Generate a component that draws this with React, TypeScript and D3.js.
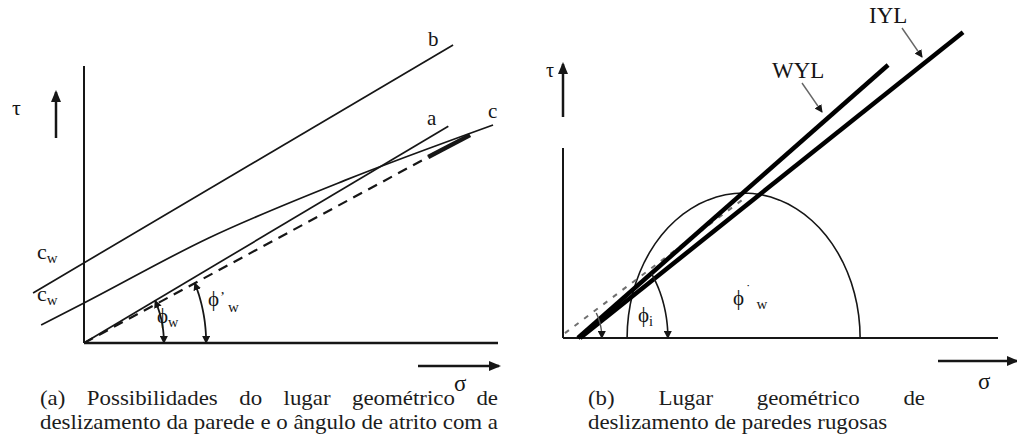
import React, { useEffect, useRef } from "react";
import * as d3 from "d3";

type Pt = [number, number];

// ---- Panel (a): possible wall yield loci (σ, τ in arbitrary stress units)
const locusB: Pt[] = [[-2.46, 2.08], [17.83, 12.37]];
const locusA: Pt[] = [[0, 0], [17.6, 9.0]];
const locusC: Pt[] = [[-2.07, 0.75], [0, 1.66], [6, 4.35], [12.6, 6.75], [19.76, 9.05]];
const effectiveLocus: Pt[] = [[0, 0], [16.63, 7.72]];
const effectiveTail: Pt[] = [[16.63, 7.72], [18.65, 8.63]];
const angleRadiiA = [3.86, 5.9]; // φw, φ'w

// ---- Panel (b): rough wall yield locus, internal yield locus and Mohr circle
const wyl: Pt[] = [[0.77, 0], [16.74, 11.3]];
const iyl: Pt[] = [[0.88, 0], [20.6, 12.66]];
const mohrCenter = 9.3;
const mohrRadius = 6;
const guideLocus: Pt[] = [[0.1, 0.2], [9.37, 5.8]];
const phiIRadius = 4.63;
const guideArcRadius = 2.0;

const captionA = ["(a) Possibilidades do lugar geométrico de", "deslizamento da parede e o ângulo de atrito com a"];
const captionB = ["(b) Lugar geométrico de", "deslizamento de paredes rugosas"];

const INK = "#161616";
const SERIF = "Liberation Serif";

export default function App() {
  const ref = useRef<SVGSVGElement | null>(null);

  useEffect(() => {
    const svg = d3.select(ref.current);
    svg.selectAll("*").remove();

    const defs = svg.append("defs");
    defs.append("marker")
      .attr("id", "headAxis").attr("viewBox", "0 0 12 10")
      .attr("refX", 10).attr("refY", 5)
      .attr("markerWidth", 12).attr("markerHeight", 10)
      .attr("markerUnits", "userSpaceOnUse").attr("orient", "auto")
      .append("path").attr("d", "M0,0 L12,5 L0,10 Z").attr("fill", INK);
    defs.append("marker")
      .attr("id", "headSmall").attr("viewBox", "0 0 8 8")
      .attr("refX", 7).attr("refY", 4)
      .attr("markerWidth", 8).attr("markerHeight", 8)
      .attr("markerUnits", "userSpaceOnUse").attr("orient", "auto-start-reverse")
      .append("path").attr("d", "M0,0 L8,4 L0,8 Z").attr("fill", INK);

    const arcPoints = (r: number, from: number, to: number): Pt[] =>
      d3.range(0, 41).map(i => {
        const t = from + (to - from) * (i / 40);
        return [r * Math.cos(t), r * Math.sin(t)];
      });
    const slopeAngle = (p: Pt[]) => Math.atan2(p[1][1] - p[0][1], p[1][0] - p[0][0]);

    const txt = (g: any, x: number, y: number, s: string, size: number) =>
      g.append("text").attr("x", x).attr("y", y).style("font-family", SERIF)
        .attr("font-size", size).attr("fill", INK).text(s);
    const sub = (g: any, x: number, y: number, base: string, s: string, size: number) => {
      const t = txt(g, x, y, base, size);
      t.append("tspan").attr("dy", 4).attr("font-size", size * 0.68).text(s);
      return t;
    };

    // ================= Panel (a) =================
    const xA = d3.scaleLinear().domain([0, 20]).range([84, 498]);
    const yA = d3.scaleLinear().domain([0, 11.5]).range([343, 66]);
    const lineA = d3.line<Pt>().x(d => xA(d[0])).y(d => yA(d[1]));
    const curveA = d3.line<Pt>().x(d => xA(d[0])).y(d => yA(d[1])).curve(d3.curveMonotoneX);
    const gA = svg.append("g");

    gA.append("line").attr("x1", xA(0)).attr("x2", xA(0)).attr("y1", yA(0)).attr("y2", yA(11.5))
      .attr("stroke", INK).attr("stroke-width", 2);
    gA.append("line").attr("x1", xA(0)).attr("x2", xA(20)).attr("y1", yA(0)).attr("y2", yA(0))
      .attr("stroke", INK).attr("stroke-width", 2.5);

    gA.append("path").attr("d", lineA(locusB)).attr("fill", "none").attr("stroke", INK).attr("stroke-width", 1.7);
    gA.append("path").attr("d", lineA(locusA)).attr("fill", "none").attr("stroke", INK).attr("stroke-width", 1.7);
    gA.append("path").attr("d", curveA(locusC)).attr("fill", "none").attr("stroke", INK).attr("stroke-width", 1.7);
    gA.append("path").attr("d", lineA(effectiveLocus)).attr("fill", "none").attr("stroke", INK)
      .attr("stroke-width", 2.2).attr("stroke-dasharray", "10 7");
    gA.append("path").attr("d", lineA(effectiveTail)).attr("fill", "none").attr("stroke", INK).attr("stroke-width", 4.5);

    const angA = [slopeAngle(locusA), slopeAngle(effectiveLocus)];
    angleRadiiA.forEach((r, i) => {
      gA.append("path").attr("d", lineA(arcPoints(r, angA[i], 0))).attr("fill", "none")
        .attr("stroke", INK).attr("stroke-width", 1.8)
        .attr("marker-start", "url(#headSmall)").attr("marker-end", "url(#headSmall)");
    });

    // axis direction arrows
    gA.append("line").attr("x1", 56).attr("x2", 56).attr("y1", 138).attr("y2", 92)
      .attr("stroke", INK).attr("stroke-width", 2.5).attr("marker-end", "url(#headAxis)");
    gA.append("line").attr("x1", 418).attr("x2", 499).attr("y1", 366).attr("y2", 366)
      .attr("stroke", INK).attr("stroke-width", 2.5).attr("marker-end", "url(#headAxis)");

    txt(gA, 12, 115, "τ", 22);
    txt(gA, 454, 391, "σ", 23);
    txt(gA, 428, 46, "b", 21);
    txt(gA, 427, 125, "a", 21);
    txt(gA, 488, 118, "c", 21);

    sub(gA, 37, 259, "c", "w", 22);
    sub(gA, 37, 301, "c", "w", 22);
    sub(gA, 157, 323, "ϕ", "w", 21);
    const pw = txt(gA, 208, 306, "ϕ", 21);
    pw.append("tspan").attr("dy", -4).attr("dx", 1).attr("font-size", 15).text("’");
    pw.append("tspan").attr("dy", 10).attr("dx", 3).attr("font-size", 15).text("w");

    // ================= Panel (b) =================
    const xB = d3.scaleLinear().domain([0, 22.4]).range([563, 998]);
    const yB = d3.scaleLinear().domain([0, 12.5]).range([338, 36]);
    const lineB = d3.line<Pt>().x(d => xB(d[0])).y(d => yB(d[1]));
    const gB = svg.append("g");

    gB.append("line").attr("x1", xB(0)).attr("x2", xB(0)).attr("y1", yB(0)).attr("y2", 148)
      .attr("stroke", INK).attr("stroke-width", 2);
    gB.append("line").attr("x1", xB(0)).attr("x2", xB(22.4)).attr("y1", yB(0)).attr("y2", yB(0))
      .attr("stroke", INK).attr("stroke-width", 2.2);

    const mohr: Pt[] = arcPoints(mohrRadius, Math.PI, 0).map(([a, b]) => [a + mohrCenter, b]);
    gB.append("path").attr("d", lineB(mohr)).attr("fill", "none").attr("stroke", INK).attr("stroke-width", 1.6);

    gB.append("path").attr("d", lineB(guideLocus)).attr("fill", "none").attr("stroke", "#6f6f6f")
      .attr("stroke-width", 2).attr("stroke-dasharray", "5 7");

    gB.append("path").attr("d", lineB(wyl)).attr("fill", "none").attr("stroke", "#000").attr("stroke-width", 4.5);
    gB.append("path").attr("d", lineB(iyl)).attr("fill", "none").attr("stroke", "#000").attr("stroke-width", 4.5);

    const phiI: Pt[] = arcPoints(phiIRadius, slopeAngle(wyl), 0).map(([a, b]) => [a + wyl[0][0], b]);
    gB.append("path").attr("d", lineB(phiI)).attr("fill", "none").attr("stroke", INK).attr("stroke-width", 1.6)
      .attr("marker-end", "url(#headSmall)");
    gB.append("path").attr("d", lineB(arcPoints(guideArcRadius, slopeAngle(guideLocus), 0)))
      .attr("fill", "none").attr("stroke", "#555").attr("stroke-width", 1.4)
      .attr("marker-end", "url(#headSmall)");

    gB.append("line").attr("x1", 563).attr("x2", 563).attr("y1", 117).attr("y2", 64)
      .attr("stroke", INK).attr("stroke-width", 2.5).attr("marker-end", "url(#headAxis)");
    gB.append("line").attr("x1", 938).attr("x2", 1017).attr("y1", 361).attr("y2", 361)
      .attr("stroke", INK).attr("stroke-width", 2.5).attr("marker-end", "url(#headAxis)");

    txt(gB, 546, 77, "τ", 20);
    txt(gB, 978, 389, "σ", 23);
    sub(gB, 638, 322, "ϕ", "i", 21);
    const pwb = txt(gB, 733, 305, "ϕ", 21);
    pwb.append("tspan").attr("dy", -12).attr("dx", 2).attr("font-size", 13).text("˙");
    pwb.append("tspan").attr("dy", 16).attr("dx", 6).attr("font-size", 15).text("w");

    txt(gB, 772, 78, "WYL", 23);
    txt(gB, 869, 23, "IYL", 23);
    gB.append("line").attr("x1", 802).attr("y1", 83).attr("x2", 822).attr("y2", 112)
      .attr("stroke", "#666").attr("stroke-width", 1.4).attr("marker-end", "url(#headSmall)");
    gB.append("line").attr("x1", 902).attr("y1", 28).attr("x2", 922).attr("y2", 57)
      .attr("stroke", "#666").attr("stroke-width", 1.4).attr("marker-end", "url(#headSmall)");

    // ================= Captions =================
    const gC = svg.append("g").style("font-family", SERIF).attr("font-size", 21).attr("fill", "#1c1c1c");
    const probe = gC.append("text").text(captionA[1]);
    const natural = (probe.node() as SVGTextElement).getComputedTextLength();
    probe.remove();
    const squeeze = 458 / natural;

    const justify = (words: string[], x0: number, x1: number, y: number) => {
      const nodes = words.map(w => gC.append("text").attr("y", y).text(w));
      const widths = nodes.map(n => (n.node() as SVGTextElement).getComputedTextLength() * squeeze);
      nodes.forEach((n, i) => n.attr("textLength", widths[i]).attr("lengthAdjust", "spacingAndGlyphs"));
      const gap = (x1 - x0 - d3.sum(widths)) / (words.length - 1);
      let x = x0;
      nodes.forEach((n, i) => { n.attr("x", x); x += widths[i] + gap; });
    };
    const plain = (s: string, x0: number, y: number) => {
      const t = gC.append("text").attr("x", x0).attr("y", y).text(s);
      const w = (t.node() as SVGTextElement).getComputedTextLength() * squeeze;
      t.attr("textLength", w).attr("lengthAdjust", "spacingAndGlyphs");
    };

    justify(captionA[0].split(" "), 40, 498, 405);
    plain(captionA[1], 40, 429);
    justify(captionB[0].split(" "), 588, 925, 405);
    plain(captionB[1], 588, 429);
  }, []);

  return (
    <svg ref={ref} width={1017} height={444} viewBox="0 0 1017 444"
      style={{ position: "absolute", left: 0, top: 0, background: "#fff" }} />
  );
}
